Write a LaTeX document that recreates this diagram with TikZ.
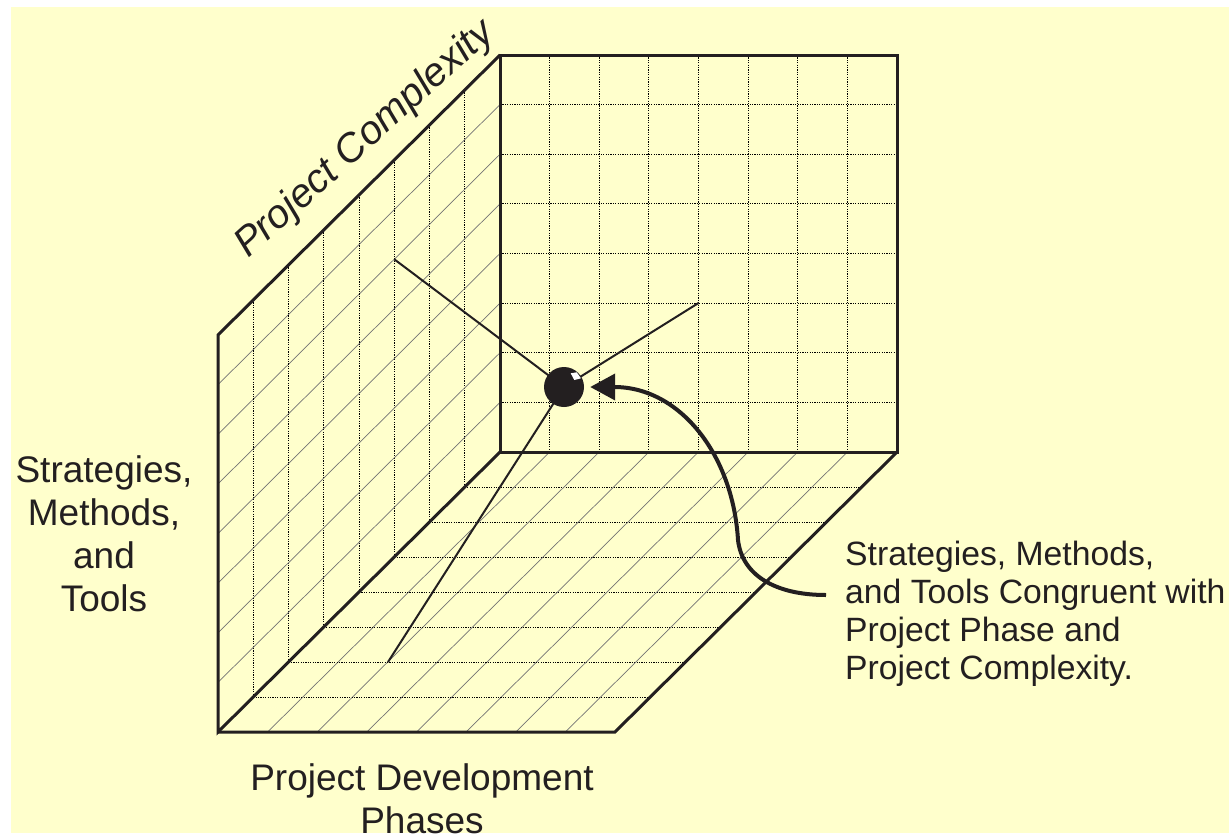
\documentclass[tikz,border=0pt]{standalone}
\usepackage{fontspec}
\setmainfont{Liberation Sans}
\usetikzlibrary{arrows.meta}
\definecolor{bgyellow}{HTML}{FFFFCC}
\definecolor{ink}{HTML}{231F20}
\tikzset{
  frame/.style={draw=ink, line width=3pt, line join=miter},
  gridline/.style={draw=black, line width=0.8pt, dash pattern=on 1.2pt off 1.2pt},
  depthline/.style={draw=black!55, line width=0.7pt},
  pointer/.style={draw=ink, line width=2pt},
  arrowline/.style={draw=ink, line width=4pt, -{Triangle[length=25pt,width=26pt]}},
  ballstyle/.style={circle, fill=ink, minimum size=40pt, inner sep=0pt},
  bigtxt/.style={font=\fontsize{37}{43}\selectfont, text=ink, inner sep=0pt, align=center},
  smalltxt/.style={font=\fontsize{33.7}{38}\selectfont, text=ink, inner sep=0pt, align=left}
}
\begin{document}
\begin{tikzpicture}[x=1pt,y=-1pt]
\useasboundingbox (0,0) rectangle (1229,833);
\fill[white] (0,0) rectangle (1229,833);
\fill[bgyellow] (11,7) rectangle (1229,833);
% back wall grid
\foreach \k in {1,...,7} {
  \draw[gridline] ({500+\k*49.625},55) -- ({500+\k*49.625},452);
  \draw[gridline] (500,{55+\k*49.625}) -- (897,{55+\k*49.625});
}
% left wall grid
\foreach \k in {1,...,7} {
  \draw[gridline] ({500-35.25*\k},{55+35*\k}) -- ({500-35.25*\k},{452+35*\k});
  \draw[depthline] (500,{55+\k*49.625}) -- (218,{335+\k*49.625});
}
% floor grid
\foreach \k in {1,...,7} {
  \draw[gridline] ({500-35.25*\k},{452+35*\k}) -- ({897-35.25*\k},{452+35*\k});
  \draw[depthline] ({500+\k*49.625},452) -- ({218+\k*49.625},732);
}
% frames
\draw[frame] (500,55) rectangle (897,452);
\draw[frame] (500,55) -- (218,335) -- (218,732) -- (500,452);
\draw[frame] (218,732) -- (615,732) -- (897,452);
% pointer lines and ball
\coordinate (bc) at (564,387);
\coordinate (pL) at (394.25,259.25);
\coordinate (pB) at (698.5,303);
\coordinate (pF) at (388,662);
\draw[pointer] (bc) -- (pL);
\draw[pointer] (bc) -- (pB);
\draw[pointer] (bc) -- (pF);
\node[ballstyle] (ball) at (bc) {};
\fill[white] (570.7,373.3) -- (576.7,372.3) -- (581,378.3) -- (574.3,380) -- cycle;
% arrow
\coordinate (arrstart) at (826,595);
\draw[arrowline, shorten >=6pt] (arrstart) .. controls (775,595) and (742,575) .. (738,540)
   .. controls (733,455) and (680,387) .. (ball.east);
% texts
\node[bigtxt, anchor=north] (lefttxt) at (104,455) {Strategies,\\Methods,\\and\\Tools};
\node[smalltxt, anchor=north west] (righttxt) at (845,541) {Strategies, Methods,\\and Tools Congruent with\\Project Phase and\\Project Complexity.};
\node[bigtxt, anchor=north] (bottomtxt) at (422,763) {Project Development\\Phases};
\node[font=\fontsize{40}{46}\selectfont\itshape, text=ink, inner sep=0pt, anchor=base west, rotate=42] (complex) at (248,259) {Project Complexity};
\end{tikzpicture}
\end{document}
